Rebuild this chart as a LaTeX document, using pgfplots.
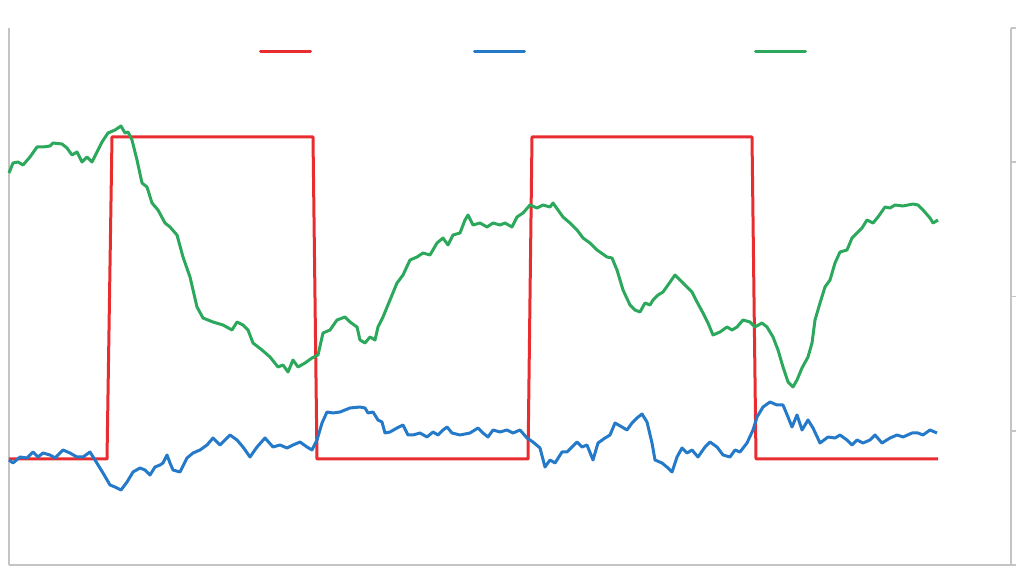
\documentclass[border=0pt]{standalone}
\usepackage{pgfplots}
\pgfplotsset{compat=1.18}
\definecolor{cred}{RGB}{232,44,48}
\definecolor{cblue}{RGB}{36,122,200}
\definecolor{cgreen}{RGB}{44,168,92}
\definecolor{caxis}{RGB}{196,196,196}
\begin{document}
\begin{tikzpicture}
\useasboundingbox (-4.5pt,-5.5pt) rectangle (506.5pt,282.5pt);
\begin{axis}[
  at={(0,0)}, anchor=south west,
  scale only axis, width=501pt, height=268.5pt,
  xmin=9, xmax=1011, ymin=28, ymax=565, y dir=reverse,
  axis x line*=bottom, axis y line*=right,
  axis line style={caxis, line width=1pt, -},
  xtick=\empty,
  ytick={28,162.25,296.5,430.75,565},
  yticklabels={},
  tick align=outside, major tick length=2.5pt,
  every tick/.style={caxis, line width=0.8pt},
  clip=false,
  legend columns=3,
  legend style={draw=none, fill=none, inner sep=0pt, outer sep=0pt,
    at={(0.2495,0.957)}, anchor=west, column sep=0pt,
    nodes={inner sep=0pt, outer sep=0pt}},
  legend image code/.code={\draw[#1, line cap=round] (0pt,0pt) -- (25pt,0pt);},
  every axis plot/.append style={line width=1.5pt, line join=round, no marks},
]
\draw[caxis, line width=1pt] (axis cs:9,28) -- (axis cs:9,565);
\addplot[cred] coordinates {(9,459) (107,459) (112,137) (313,137) (317,459) (528,459) (532,137) (752,137) (756,459) (938,459)};
\addlegendentry{\hspace*{80.5pt}}
\addplot[cblue] coordinates {
(9,460) (13,463) (20,457) (27,458) (33,452) (38,457) (43,453) (50,455) (55,458) (63,450)
(70,453) (77,457) (83,457) (90,452) (95,460) (103,473) (110,485) (115,487) (121,490) (127,482)
(133,472) (140,468) (145,470) (150,475) (155,467) (160,465) (163,463) (167,455) (170,463) (173,470)
(180,472) (187,458) (193,453) (200,450) (207,445) (213,438) (220,445) (230,435) (237,440) (243,447)
(250,457) (257,447) (265,438) (273,447) (280,445) (287,448) (293,445) (300,442) (307,447) (312,450)
(317,440) (322,423) (327,412) (333,413) (340,412) (350,408) (360,407) (365,408) (368,413) (373,412)
(378,420) (382,422) (385,433) (390,432) (397,428) (403,425) (408,435) (413,435) (420,433) (427,437)
(433,432) (438,435) (443,430) (447,427) (452,433) (460,435) (470,433) (478,428) (483,433) (488,437)
(493,430) (500,432) (507,430) (513,433) (520,430) (527,438) (533,442) (540,448) (545,467) (550,460)
(555,463) (562,452) (567,452) (572,447) (577,442) (582,447) (587,445) (593,460) (598,443) (605,438)
(610,435) (615,423) (622,427) (627,430) (632,423) (637,418) (642,414) (647,422) (652,443) (655,460)
(662,463) (668,468) (672,472) (677,457) (682,448) (687,453) (692,450) (698,457) (705,447) (710,442)
(717,447) (723,455) (730,457) (735,450) (740,452) (747,443) (753,430) (757,417) (763,407) (770,402)
(777,405) (783,405) (788,417) (792,427) (797,415) (802,430) (808,420) (813,428) (820,443) (828,437)
(835,438) (840,435) (847,440) (852,445) (857,440) (863,443) (870,440) (875,435) (882,443) (890,438)
(897,435) (903,437) (912,433) (918,433) (923,435) (930,430) (937,433)};
\addlegendentry{\hspace*{114pt}}
\addplot[cgreen] coordinates {
(9,173) (13,163) (18,162) (23,165) (30,157) (37,147) (43,147) (50,146) (53,143) (62,144)
(67,148) (72,155) (77,152) (82,162) (87,157) (92,162) (97,152) (102,142) (108,133) (115,130)
(121,126) (125,133) (128,132) (132,140) (137,160) (142,183) (147,187) (152,203) (158,210) (165,223)
(170,227) (177,235) (183,257) (190,277) (197,307) (203,318) (213,322) (223,325) (232,330) (237,322)
(243,325) (248,330) (253,343) (262,350) (270,357) (278,367) (283,365) (288,372) (293,360) (298,367)
(305,363) (312,358) (318,355) (323,333) (330,330) (337,320) (345,317) (350,322) (357,327) (360,340)
(365,343) (370,337) (375,340) (378,327) (383,317) (390,300) (397,283) (403,275) (410,260) (417,257)
(423,253) (430,255) (437,243) (443,238) (448,245) (453,235) (460,233) (465,220) (468,215) (473,225)
(480,223) (487,227) (493,223) (500,225) (505,223) (512,227) (517,217) (523,213) (530,205) (537,208)
(543,205) (550,207) (553,203) (558,210) (563,217) (570,223) (577,230) (583,238) (590,243) (597,250)
(607,257) (612,258) (617,270) (623,290) (630,305) (635,310) (640,312) (645,303) (650,305) (653,300)
(658,295) (663,292) (668,285) (675,275) (680,280) (687,287) (692,292) (697,302) (703,313) (708,323)
(713,335) (720,332) (727,327) (732,330) (737,327) (743,320) (750,322) (755,327) (762,323) (767,327)
(773,337) (778,350) (783,367) (788,382) (793,387) (797,380) (802,368) (808,357) (812,343) (815,320)
(820,303) (825,287) (830,280) (835,263) (840,252) (847,250) (852,238) (857,233) (862,228) (867,220)
(873,223) (878,217) (885,207) (890,208) (895,205) (903,206) (913,204) (918,205) (923,210) (930,218)
(933,223) (938,220)};
\addlegendentry{}
\end{axis}
\end{tikzpicture}
\end{document}
